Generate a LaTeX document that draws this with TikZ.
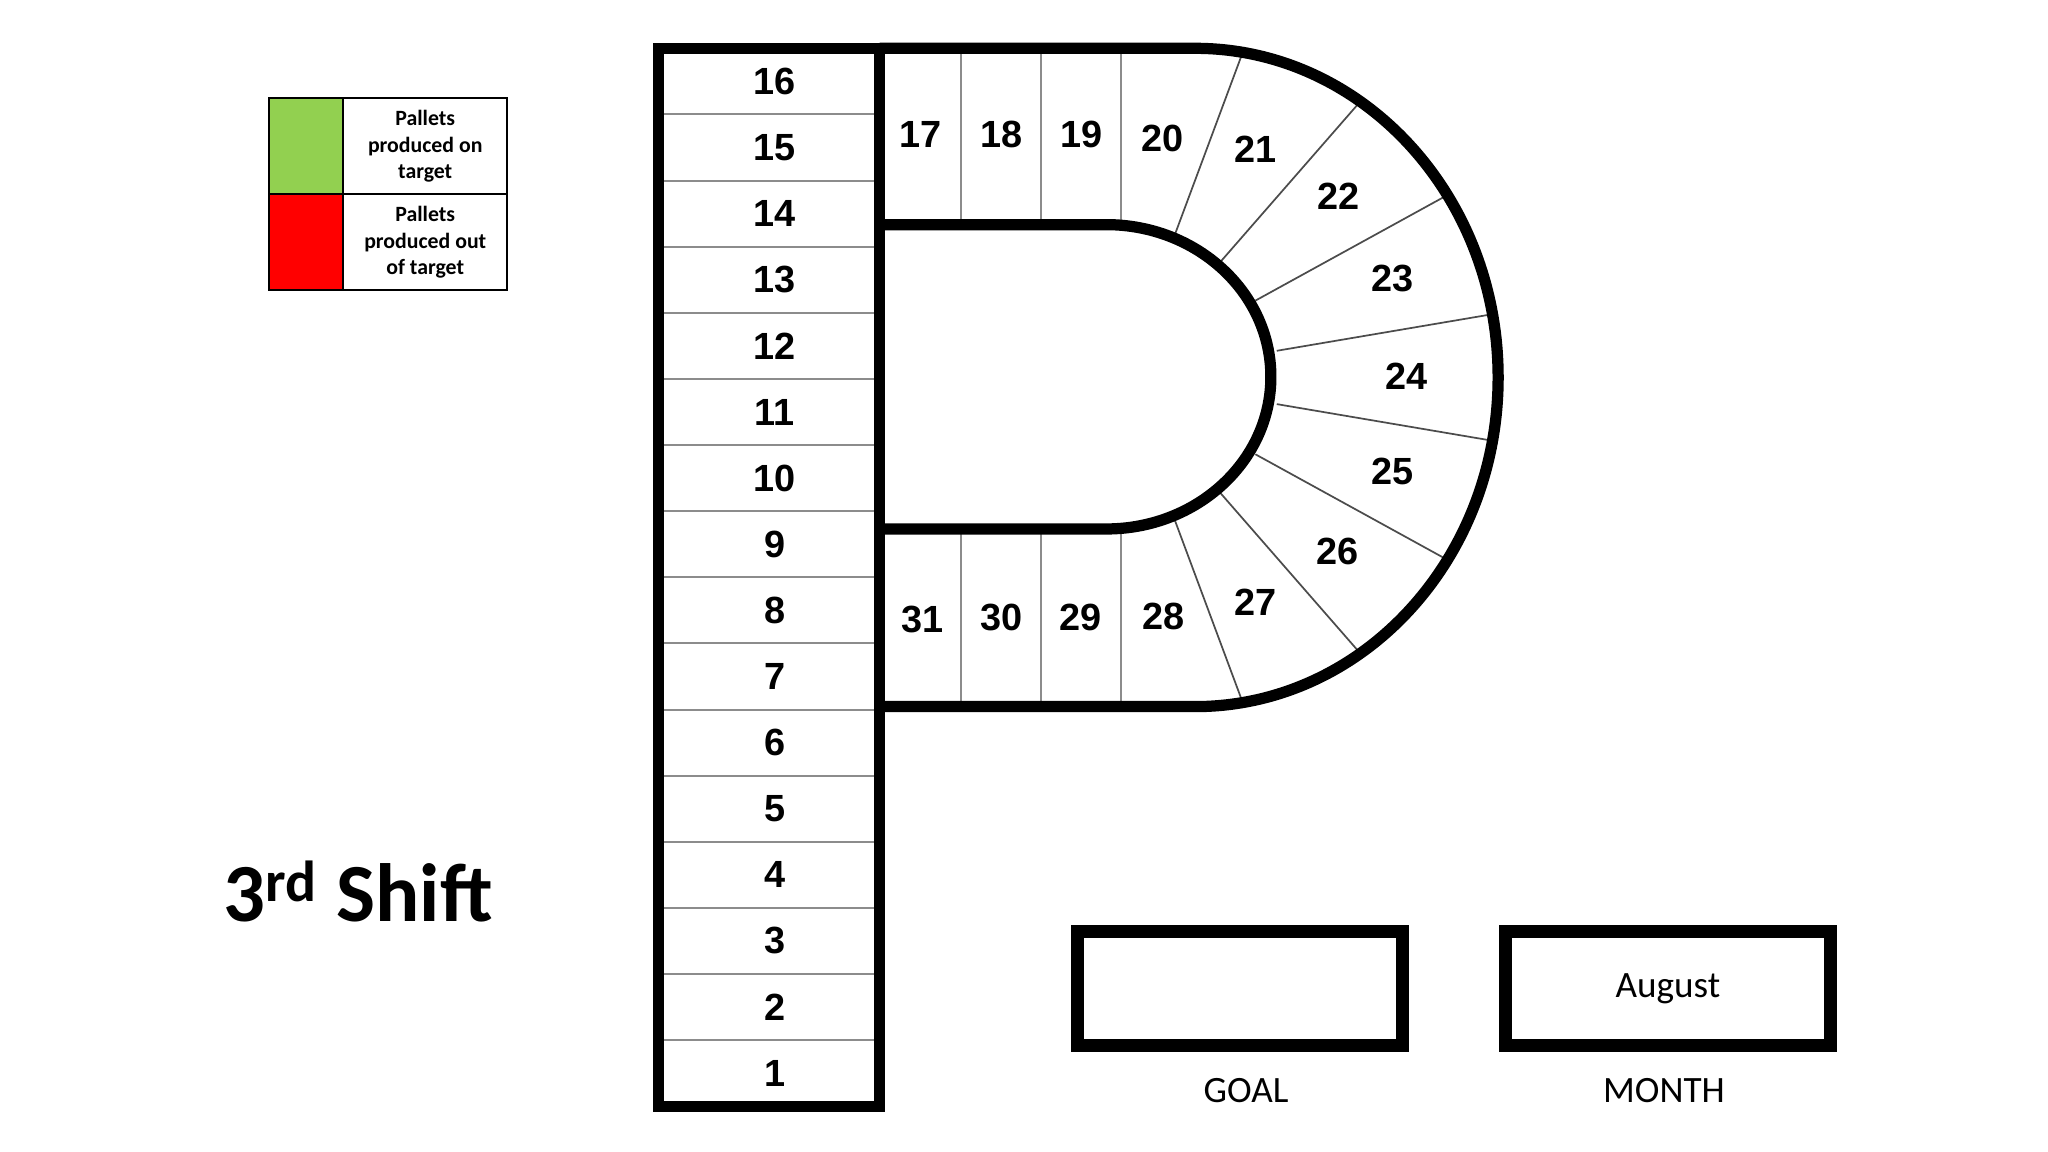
\documentclass[tikz,border=0pt]{standalone}
\usepackage{fontspec}
\setmainfont{Carlito}
\newfontfamily\numfont{Liberation Sans}
\usepackage{tikz}
\usetikzlibrary{positioning}
\definecolor{ontarget}{HTML}{92D050}
\definecolor{offtarget}{HTML}{FF0000}

\begin{document}
\begin{tikzpicture}[x=0.02cm,y=0.02cm,
                thickline/.style={line width=4.9pt},
                rowline/.style={line width=0.85pt,draw=black!45},
                rayline/.style={line width=0.75pt,draw=black!70,shorten <=-2pt,shorten >=-2pt},
                num/.style={font=\numfont\bfseries\fontsize{16.5}{20}\selectfont,inner sep=0pt},
                keycell/.style={draw,line width=0.85pt,outer sep=0pt,minimum width=1.132cm,minimum height=1.47cm},
                keytext/.style={keycell,minimum width=2.512cm,align=center,
                        font=\bfseries\fontsize{9.5}{11.5}\selectfont},
                valbox/.style={draw,line width=5.7pt,minimum width=4.98cm,minimum height=1.744cm,
                        font=\fontsize{16.2}{19}\selectfont},
                caption/.style={font=\fontsize{16.2}{19}\selectfont,inner sep=0pt}]
            \fill[white] (0,0) rectangle (1568,882);
            % legend
            \node[keycell,fill=ontarget] (on) at (234.5,769.9) {};
            \node[keycell,fill=offtarget,below=0pt of on] (off) {};
            \node[keytext,right=0pt of on] (ontxt) {Pallets\\ produced on\\ target};
            \node[keytext,right=0pt of off] (offtxt) {Pallets\\ produced out\\ of target};
            \node[anchor=base west,inner sep=0pt,font=\bfseries\fontsize{36}{40}\selectfont] (shift)
            at (171,176.3) {3\textsuperscript{rd} Shift};
            % column of the P
            \foreach \k in {1,...,15}
                {\draw[rowline] (504,{845-50.625*\k}) -- (673.5,{845-50.625*\k});}
            \foreach \n in {1,...,16}
                {\node[num] (n\n) at (593,{35+50.625*(\n-0.5)}) {\n};}
            % bowl of the P
            \foreach \x in {735.5,797,858.5}
                {\draw[rowline] (\x,710) -- (\x,845);
                 \draw[rowline] (\x,341) -- (\x,477);}
            \foreach \xa/\da/\xb/\db in {900/110.7/950/245,935.7/90/1039.5/209,
                    964.2/60.5/1107/139,981/21/1143/48.5}
                {\draw[rayline] (\xa,{593+\da}) -- (\xb,{593+\db});
                 \draw[rayline] (\xa,{593-\da}) -- (\xb,{593-\db});}
            \foreach \n/\x/\y in {17/705/779,18/767/779,19/828/779,20/890/776,21/961/768,
                    22/1025/732,23/1066/669,24/1077/594,25/1066/521,26/1024/460,27/961/421,
                    28/891/410,29/827/409,30/767/409,31/706/408}
                {\node[num] (n\n) at (\x,\y) {\n};}
            \draw[thickline] (504,35) rectangle (673.5,845);
            \draw[thickline] (673.5,845) -- (915,845)
            arc[start angle=90,end angle=-90,x radius=232,y radius=252] -- (673.5,341);
            \draw[thickline] (673.5,710) -- (847,710)
            arc[start angle=90,end angle=-90,x radius=126,y radius=116.5] -- (673.5,477);
            % goal and month
            \node[valbox] (goal) at (949.5,125) {};
            \node[valbox] (month) at (1277,125) {August};
            \node[caption] (goallbl) at (954,47) {GOAL};
            \node[caption] (monthlbl) at (1274,47) {MONTH};
        \end{tikzpicture}
\end{document}
